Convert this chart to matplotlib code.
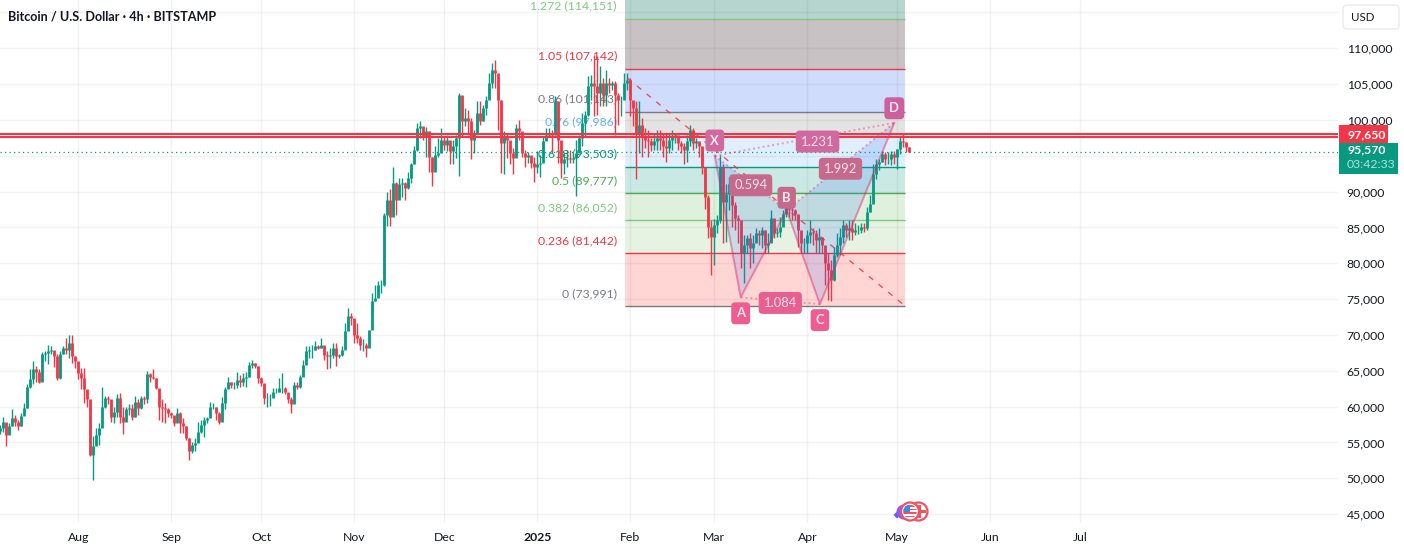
import numpy as np
import matplotlib
matplotlib.use("Agg")
import matplotlib.pyplot as plt
import matplotlib.dates as mdates
from matplotlib.patches import Rectangle, FancyBboxPatch, Circle, Polygon

plt.rcParams['font.family'] = ['Lato', 'DejaVu Sans']

# daily candles in thousands of USD, first one on 6 Jul 2024
opens = [
    56.6,57.0,57.9,56.1,57.3,58.4,57.9,57.3,58.7,59.8,
    62.8,63.8,65.2,64.9,63.5,67.3,67.5,67.7,67.9,67.0,
    64.0,67.3,68.2,67.9,68.9,67.0,66.3,64.7,64.0,62.4,
    61.0,53.3,54.5,56.1,57.0,60.0,61.2,61.0,58.6,59.3,
    61.2,58.6,57.9,59.6,59.8,58.6,60.7,59.8,61.2,61.0,
    64.5,64.2,64.0,62.6,60.0,59.8,59.6,59.1,58.9,57.7,
    59.1,57.7,57.3,55.6,53.8,54.7,54.9,
    56.5,57.5,58.2,58.4,60.0,60.0,59.1,57.9,60.5,62.4,
    63.5,63.0,63.0,63.7,63.5,64.0,64.2,65.8,66.1,65.7,
    64.0,63.3,61.2,61.2,61.2,62.1,62.1,62.6,62.6,62.1,
    61.0,60.3,63.0,62.8,64.2,65.8,67.7,67.9,67.9,68.5,
    68.2,68.6,67.2,67.0,67.2,68.2,67.0,67.2,67.9,70.5,
    72.6,72.4,70.0,69.6,68.6,68.6,68.2,70.7,74.7,75.1,
    77.0,
    77.0,86.8,88.9,86.5,91.2,88.9,91.0,91.2,90.5,91.9,
    93.8,95.8,98.9,99.1,97.7,98.4,94.9,92.8,95.1,95.4,
    97.2,96.5,97.2,95.6,96.3,97.5,103.5,99.8,100.3,99.8,
    97.2,98.2,101.0,99.8,101.7,102.8,105.1,107.0,106.5,102.8,
    96.8,97.7,97.2,95.4,94.7,98.9,98.4,95.4,94.9,95.1,
    94.0,93.5,
    93.8,94.0,97.0,97.9,98.2,97.9,102.6,97.2,94.0,94.5,
    94.7,94.5,94.7,95.4,97.5,99.6,100.7,104.7,105.1,104.7,
    103.8,105.1,103.5,105.1,104.9,105.1,103.5,102.8,102.8,105.1,
    105.6,102.8,101.7,98.2,99.3,97.7,97.2,97.0,96.5,97.0,
    97.5,97.2,96.3,96.1,97.2,97.7,97.9,96.8,96.3,95.8,
    97.0,98.6,96.8,97.0,96.3,
    93.5,89.3,85.1,83.7,85.3,86.0,93.4,88.6,89.7,91.1,
    88.1,86.3,86.0,81.4,82.5,83.5,82.1,82.8,84.2,83.9,
    84.6,82.5,82.8,86.3,84.2,84.4,85.1,86.9,88.1,87.6,
    87.4,86.9,84.6,82.8,82.8,83.9,84.4,84.2,83.2,83.7,
    82.5,80.0,79.1,77.7,81.2,82.5,83.7,85.3,84.6,84.9,
    84.4,84.6,84.6,85.1,84.9,87.2,88.3,92.5,93.9,94.1,
    95.3,94.6,94.6,95.3,94.8,96.0,97.1,96.9,96.2,
]
highs = [
    57.5,58.5,57.7,57.7,59.6,58.9,58.2,59.1,60.5,63.2,
    65.2,66.3,65.6,65.2,67.6,67.7,68.6,68.4,67.5,67.3,
    67.7,68.4,69.6,70.0,70.0,67.0,65.6,65.4,65.4,62.1,
    59.8,55.9,57.0,57.7,62.7,61.5,61.5,60.0,60.0,61.7,
    61.9,60.0,60.0,60.3,60.4,61.5,61.1,61.5,61.5,65.0,
    64.7,65.2,64.0,62.4,61.0,60.5,59.8,59.3,58.7,59.8,
    59.3,58.4,57.3,55.6,55.1,55.6,57.9,
    58.2,58.6,58.6,60.7,60.5,60.0,59.3,61.4,62.8,64.1,
    63.5,63.5,64.8,64.4,64.7,64.9,66.2,66.5,66.1,65.7,
    64.1,62.8,61.9,61.7,62.6,62.6,64.0,64.7,62.8,61.4,
    61.4,63.5,63.5,64.4,66.5,68.5,68.4,68.6,69.1,68.6,
    69.6,68.2,67.7,68.2,68.9,68.9,67.4,68.4,71.7,73.7,
    73.0,71.7,71.7,69.8,69.4,68.9,70.7,75.8,77.0,77.5,
    77.7,
    87.0,90.0,90.3,93.5,91.4,91.9,91.9,91.4,92.8,94.0,
    96.3,99.6,99.9,98.9,99.0,98.4,94.9,96.3,97.5,98.9,
    97.6,97.9,97.0,97.2,97.9,103.8,102.4,101.7,101.4,100.3,
    98.6,102.6,102.6,102.1,103.3,106.5,107.9,108.4,105.6,102.8,
    98.4,98.2,96.5,96.1,99.5,100.0,97.5,95.8,95.5,94.7,
    94.9,95.6,
    95.1,97.7,98.9,98.9,98.6,103.3,101.9,96.3,95.4,95.8,
    95.8,95.4,97.2,97.9,101.0,101.2,106.1,106.3,109.1,108.9,
    107.5,105.8,107.0,105.8,105.4,105.4,103.8,103.3,106.5,106.5,
    105.8,102.6,102.6,102.6,100.3,98.9,98.6,97.5,98.2,98.6,
    98.6,98.2,98.2,98.2,98.6,98.2,97.5,97.0,96.8,97.9,
    99.3,98.9,97.5,96.8,95.4,
    92.5,89.5,86.0,86.2,86.7,95.1,93.9,91.1,92.0,91.3,
    88.6,86.7,83.9,83.9,83.9,84.2,83.9,84.9,84.6,85.1,
    84.6,84.2,87.4,85.1,84.9,86.5,87.4,89.0,89.0,88.6,
    87.6,86.7,83.7,83.5,84.6,86.0,84.9,84.6,84.9,83.5,
    82.3,81.4,80.5,82.3,84.2,84.9,86.1,85.6,86.0,86.0,
    85.6,85.3,85.6,85.6,87.9,89.5,93.9,94.6,94.6,95.7,
    95.5,95.5,95.7,95.6,96.0,97.8,98.1,96.9,96.2,
]
lows = [
    56.2,56.5,54.5,56.2,57.3,57.3,56.7,57.3,59.3,59.8,
    62.6,63.1,63.5,63.3,65.2,66.3,65.9,67.3,65.5,63.7,
    63.8,67.3,67.3,66.8,66.1,65.4,63.8,62.4,60.5,60.0,
    53.1,49.7,54.7,54.7,59.6,59.8,60.3,57.9,57.7,58.6,
    57.7,56.2,58.9,58.9,58.1,58.6,58.9,59.6,60.3,60.5,
    63.5,63.8,62.4,58.2,57.9,57.7,58.6,58.4,57.3,58.4,
    56.3,56.3,55.4,52.6,53.5,53.8,55.1,
    56.3,55.7,57.7,59.1,59.6,58.2,57.6,59.3,59.6,62.6,
    62.6,62.4,62.6,62.8,62.9,62.8,64.2,65.4,65.4,63.3,
    62.9,60.3,60.0,60.1,61.7,61.9,62.1,61.9,61.7,60.5,
    59.1,61.2,62.4,62.6,64.9,66.1,66.8,66.8,67.9,68.0,
    68.2,66.5,65.2,65.4,66.8,65.6,66.8,67.0,69.6,70.7,
    71.4,68.9,68.9,67.9,67.7,66.9,68.9,72.8,74.7,76.3,
    75.8,
    76.9,85.2,85.2,87.0,86.8,89.3,89.3,88.9,90.3,91.2,
    93.8,95.6,97.5,97.2,94.9,92.8,90.8,93.3,94.9,96.1,
    95.8,95.6,93.8,93.8,94.7,92.2,97.7,99.1,97.9,94.5,
    95.4,97.9,99.3,99.8,100.7,103.5,104.5,104.5,98.6,92.6,
    92.4,94.7,93.8,92.5,95.4,97.2,94.9,93.5,94.0,93.3,
    91.4,92.6,
    92.1,95.4,97.2,97.6,95.4,97.9,94.0,91.9,92.4,93.5,
    94.0,94.0,89.4,95.8,96.3,97.6,100.5,102.8,100.5,100.7,
    101.9,101.9,101.9,103.8,104.2,97.9,99.3,100.5,103.8,104.2,
    100.5,99.1,91.7,95.4,94.9,96.1,94.9,95.6,95.8,95.8,
    95.8,94.9,94.2,95.4,95.8,96.8,95.8,95.4,93.8,94.2,
    96.3,95.8,96.1,94.9,92.4,
    87.6,83.5,78.4,79.8,84.2,85.6,82.9,83.0,87.4,85.1,
    84.6,82.8,79.3,77.2,81.4,79.3,80.0,83.7,82.5,82.1,
    81.4,81.4,84.2,83.5,83.7,83.7,85.3,86.5,86.5,86.0,
    86.0,82.3,81.4,81.4,81.4,82.8,82.5,81.4,81.4,81.4,
    77.0,74.9,74.7,77.5,80.9,81.2,82.8,83.7,83.2,83.2,
    83.9,84.1,84.2,84.4,84.6,87.2,88.8,91.8,93.0,94.1,
    93.7,93.9,93.7,93.9,93.1,95.3,96.2,95.5,95.5,
]
closes = [
    57.0,57.9,56.1,57.3,58.4,57.9,57.3,58.7,59.8,62.8,
    63.8,65.2,64.9,63.5,67.3,67.5,67.7,67.9,67.0,64.0,
    67.3,68.2,67.9,68.9,67.0,66.3,64.7,64.0,62.4,61.0,
    53.3,54.5,56.1,57.0,60.0,61.2,61.0,58.6,59.3,61.2,
    58.6,57.9,59.6,59.8,58.6,60.7,59.8,61.2,61.0,64.5,
    64.2,64.0,62.6,60.0,59.8,59.6,59.1,58.9,57.7,59.1,
    57.7,57.3,55.6,53.8,54.7,54.9,56.5,
    57.5,58.2,58.4,60.0,60.0,59.1,57.9,60.5,62.4,63.5,
    63.0,63.0,63.7,63.5,64.0,64.2,65.8,66.1,65.7,64.0,
    63.3,61.2,61.2,61.2,62.1,62.1,62.6,62.6,62.1,61.0,
    60.3,63.0,62.8,64.2,65.8,67.7,67.9,67.9,68.5,68.2,
    68.6,67.2,67.0,67.2,68.2,67.0,67.2,67.9,70.5,72.6,
    72.4,70.0,69.6,68.6,68.6,68.2,70.7,74.7,75.1,77.0,
    77.0,
    86.8,88.9,86.5,91.2,88.9,91.0,91.2,90.5,91.9,93.8,
    95.8,98.9,99.1,97.7,98.4,94.9,92.8,95.1,95.4,97.2,
    96.5,97.2,95.6,96.3,97.5,103.5,99.8,100.3,99.8,97.2,
    98.2,101.0,99.8,101.7,102.8,105.1,107.0,106.5,102.8,96.8,
    97.7,97.2,95.4,94.7,98.9,98.4,95.4,94.9,95.1,94.0,
    93.5,93.8,
    94.0,97.0,97.9,98.2,97.9,102.6,97.2,94.0,94.5,94.7,
    94.5,94.7,95.4,97.5,99.6,100.7,104.7,105.1,104.7,103.8,
    105.1,103.5,105.1,104.9,105.1,103.5,102.8,102.8,105.1,105.6,
    102.8,101.7,98.2,99.3,97.7,97.2,97.0,96.5,97.0,97.5,
    97.2,96.3,96.1,97.2,97.7,97.9,96.8,96.3,95.8,97.0,
    98.6,96.8,97.0,96.3,93.5,
    89.3,85.1,83.7,85.3,86.0,93.4,88.6,89.7,91.1,88.1,
    86.3,86.0,81.4,82.5,83.5,82.1,82.8,84.2,83.9,84.6,
    82.5,82.8,86.3,84.2,84.4,85.1,86.9,88.1,87.6,87.4,
    86.9,84.6,82.8,82.8,83.9,84.4,84.2,83.2,83.7,82.5,
    80.0,79.1,77.7,81.2,82.5,83.7,85.3,84.6,84.9,84.4,
    84.6,84.6,85.1,84.9,87.2,88.3,92.5,93.9,94.1,95.3,
    94.6,94.6,95.3,94.8,96.0,97.1,96.9,96.2,95.57,
]

first_candle = "2024-07-06"

fib_ratios = ["0", "0.236", "0.382", "0.5", "0.618", "0.76", "0.86", "1.05", "1.272"]
fib_prices = [73991, 81442, 86052, 89777, 93503, 97986, 101143, 107142, 114151]
fib_start = "2025-01-30 03:00"
fib_end = "2025-05-03 17:00"

pattern_names = ["X", "A", "B", "C", "D"]
pattern_dates = ["2025-03-01 04:00", "2025-03-09 19:00", "2025-03-25 03:00",
                 "2025-04-05 05:00", "2025-04-30 00:00"]
pattern_prices = [95000, 75250, 87400, 74300, 99600]

trend_dates = ["2025-01-31 00:00", "2025-05-02 20:00"]
trend_prices = [105850, 74300]

resistance_prices = [98100, 97650]
last_price = 95570

month_dates = ["2024-08-01", "2024-09-01", "2024-10-01", "2024-11-01", "2024-12-01",
               "2025-01-01", "2025-02-01", "2025-03-01", "2025-04-01", "2025-05-01",
               "2025-06-01", "2025-07-01"]
month_labels = ["Aug", "Sep", "Oct", "Nov", "Dec", "2025", "Feb", "Mar", "Apr", "May", "Jun", "Jul"]
price_ticks = list(range(45000, 120000, 5000))
# 95,000 sits under the last price tag and 115,000 under the currency button
unlabelled_ticks = [95000, 115000]

UP = "#089981"
DOWN = "#f23645"
INK = "#131722"
PINK = "#e91e63"

W, H = 1404, 552
PANE_W, PANE_H = 1338, 523
PX_PER_DAY = 3.0


def to_num(stamp):
    return mdates.date2num(np.datetime64(stamp))


fig = plt.figure(figsize=(W / 100, H / 100), dpi=100, facecolor="white")
ax = fig.add_axes([0, (H - PANE_H) / H, PANE_W / W, PANE_H / H])

# scales: 3 px per day, 7.167 px per 1000 USD
x_left = to_num("2024-08-01") - 78.3 / PX_PER_DAY
ax.set_xlim(x_left, x_left + PANE_W / PX_PER_DAY)
ax.set_ylim(43760, 116740)

for side in ax.spines.values():
    side.set_visible(False)

ax.yaxis.tick_right()
ax.set_yticks(price_ticks)
ax.set_yticklabels(["" if p in unlabelled_ticks else f"{p:,}" for p in price_ticks], fontsize=8.8, color=INK,
                   va="center_baseline")
ax.set_xticks([to_num(d) for d in month_dates])
ax.set_xticklabels(month_labels, fontsize=8.8, color=INK)
ax.tick_params(axis="y", length=0, pad=6.2)
ax.tick_params(axis="x", length=0, pad=6.2)
for lab in ax.get_xticklabels():
    if lab.get_text() == "2025":
        lab.set_fontweight("bold")
ax.set_axisbelow(False)
ax.grid(True, color="black", alpha=0.05, linewidth=1.0, zorder=1.5)

# fib retracement bands, one above each level
band_colors = ["#ffd6d3", "#e6f3e2", "#dff0dc", "#cbe9e4", "#dfeffb",
               "#e3e3e3", "#d0dcfc", "#c9c2c5", "#b5d5ce"]
line_colors = ["#787b86", "#f23645", "#81c784", "#4caf50", "#089981",
               "#64b5f6", "#787b86", "#f23645", "#81c784"]
x0, x1 = to_num(fib_start), to_num(fib_end)
tops = fib_prices[1:] + [ax.get_ylim()[1]]
for low, top, col in zip(fib_prices, tops, band_colors):
    ax.add_patch(Rectangle((x0, low), x1 - x0, top - low, facecolor=col, edgecolor="none", zorder=1))
for ratio, price, col in zip(fib_ratios, fib_prices, line_colors):
    ax.plot([x0, x1], [price, price], color=col, linewidth=1.0, zorder=2, solid_capstyle="butt")
    ax.annotate(f"{ratio} ({price:,})", (x0, price), xytext=(-5.6, 9), textcoords="offset points",
                ha="right", va="center", fontsize=8.8, color=col, zorder=2)

# candles
opens_usd = np.array(opens) * 1000
highs_usd = np.array(highs) * 1000
lows_usd = np.array(lows) * 1000
closes_usd = np.array(closes) * 1000
xs = to_num(first_candle) + np.arange(len(closes_usd))
colors = [UP if c >= o else DOWN for o, c in zip(opens_usd, closes_usd)]
ax.vlines(xs, lows_usd, highs_usd, colors=colors, linewidth=1.0, zorder=3)
ax.vlines(xs, np.minimum(opens_usd, closes_usd), np.maximum(opens_usd, closes_usd),
          colors=colors, linewidth=2.0, zorder=3.1)

# levels across the whole pane
for price in resistance_prices:
    ax.axhline(price, color=DOWN, linewidth=1.5, zorder=5)
ax.axhline(last_price, color=UP, linewidth=0.9, linestyle=(0, (1, 2.6)), zorder=4)

# fib trend line
ax.plot([to_num(d) for d in trend_dates], trend_prices, color=DOWN, linewidth=1.0,
        linestyle=(0, (4, 5)), alpha=0.85, zorder=4)

# harmonic pattern
px = [to_num(d) for d in pattern_dates]
py = pattern_prices
pts = list(zip(px, py))
for tri in (pts[0:3], pts[2:5]):
    ax.add_patch(Polygon(tri, closed=True, facecolor="#2962ff", alpha=0.16, edgecolor="none", zorder=4))
ax.plot(px, py, color=PINK, alpha=0.45, linewidth=1.4, zorder=4.2)
for a, b in [(0, 2), (1, 3), (2, 4), (0, 4)]:
    ax.plot([px[a], px[b]], [py[a], py[b]], color=PINK, alpha=0.4, linewidth=1.4,
            linestyle=(0, (1, 1.5)), zorder=4.2)

# boxes inside the bands come out duller than the ones on white
ratio_labels = [("0.594", 0, 2, 0, "#c56a8a"), ("1.084", 1, 3, 0, "#e8608f"),
                ("1.992", 2, 4, 0, "#c56a8a"), ("1.231", 0, 4, 13 / PX_PER_DAY, "#d0699d")]
for text, a, b, shift, face in ratio_labels:
    ax.annotate(text, ((px[a] + px[b]) / 2 + shift, (py[a] + py[b]) / 2), xytext=(0, -1.6),
                textcoords="offset points", ha="center", va="center",
                fontsize=9.4, color=(1, 1, 1, 0.8), zorder=6,
                bbox=dict(boxstyle="round,pad=0.38,rounding_size=0.3", facecolor=face, edgecolor="none"))

letter_faces = ["#d0699d", "#ee5c90", "#c56a8a", "#ee5c90", "#cc5f9c"]
for name, x, y, off, face in zip(pattern_names, px, py, [11, -11.5, 9, -11.5, 10.5], letter_faces):
    ax.annotate(name, (x, y), xytext=(0, off), textcoords="offset points", ha="center", va="center",
                fontsize=9.4, fontweight="bold", color=(1, 1, 1, 0.85), zorder=6,
                bbox=dict(boxstyle="round,pad=0.38,rounding_size=0.3", facecolor=face, edgecolor="none"))

# overlay in pixels for the toolbar-like pieces
ui = fig.add_axes([0, 0, 1, 1], facecolor="none")
ui.set_xlim(0, W)
ui.set_ylim(H, 0)
ui.axis("off")

ui.text(8, 16.5, "Bitcoin / U.S. Dollar · 4h · BITSTAMP", fontsize=9.05, fontweight="bold",
        color=INK, ha="left", va="center")

ui.add_patch(FancyBboxPatch((1343, 5), 56, 24, boxstyle="round,pad=0,rounding_size=4",
                            facecolor="white", edgecolor="#ebebeb", linewidth=1))
ui.text(1351, 17.5, "USD", fontsize=8.3, color=INK, ha="left", va="center")


def price_y(price):
    return H - ax.transData.transform((x0, price))[1]


tag_y = price_y(resistance_prices[1])
ui.add_patch(Rectangle((1339, tag_y - 12), 49, 18, facecolor=DOWN, edgecolor="none"))
ui.text(1347, tag_y - 1.5, f"{resistance_prices[1]:,}", fontsize=8.8, fontweight="bold", color="white",
        ha="left", va="center")

last_y = price_y(last_price)
ui.add_patch(Rectangle((1339, last_y - 9), 59, 31.3, facecolor=UP, edgecolor="none"))
ui.text(1347, last_y - 1.5, f"{last_price:,}", fontsize=8.8, fontweight="bold", color="white", ha="left", va="center")
ui.text(1347, last_y + 12.5, "03:42:33", fontsize=8.8, color=(1, 1, 1, 0.7), ha="left", va="center")

# event badge with stacked flag discs
ui.add_patch(Polygon([(893.5, 515), (897, 511.5), (900.5, 515), (897, 518.5)], closed=True, facecolor="#7c4dff"))
ui.add_patch(Circle((904, 512), 7.5, facecolor="#8a5cf6", edgecolor="none"))
rear = Circle((918.5, 511.5), 9, facecolor="white", edgecolor="#f0525f", linewidth=1.6)
ui.add_patch(rear)
ui.add_patch(Rectangle((914, 510), 12, 2.6, facecolor="#f0525f", edgecolor="none"))
ui.add_patch(Rectangle((918, 505), 2.6, 13, facecolor="#f0525f", edgecolor="none"))
ui.add_patch(Circle((910, 511.5), 9, facecolor="white", edgecolor="#f0525f", linewidth=1.6))
disc = Circle((910, 511.5), 6.8, facecolor="white", edgecolor="none")
ui.add_patch(disc)
for top_y in (505, 508.5, 512, 515.5):
    stripe = Rectangle((902, top_y), 16, 1.9, facecolor="#f0525f", edgecolor="none")
    ui.add_patch(stripe)
    stripe.set_clip_path(disc)
canton = Rectangle((902, 504), 8, 8, facecolor="#3d8be0", edgecolor="none")
ui.add_patch(canton)
canton.set_clip_path(disc)

fig.savefig("out.png", dpi=100)
